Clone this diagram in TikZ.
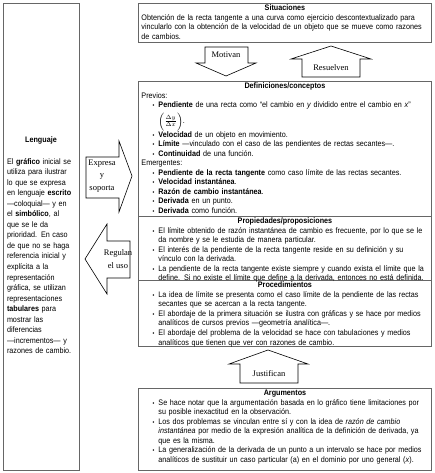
\documentclass[tikz,border=0pt]{standalone}
\usepackage{fontspec}
\setmainfont[FakeStretch=0.9]{Liberation Sans}
\newfontfamily\arrowfont{Liberation Serif}
\usepackage{enumitem}
\usetikzlibrary{positioning}

\setlist[itemize]{label={\fontsize{6}{6}\selectfont\textbullet}, leftmargin=17pt, labelsep=4pt, itemsep=0pt, topsep=0pt, parsep=0pt, partopsep=0pt}

\tikzset{
	frame/.style={draw=black!60, line width=0.9pt, inner sep=0pt, anchor=north west},
	boxtext/.style={inner sep=0pt, text width=287pt, anchor=north, font=\fontsize{8}{9.5}\selectfont},
	blockarrow/.style={draw=black, line width=0.6pt, fill=white, line join=miter},
	arrowlabel/.style={inner sep=0pt, align=center, font=\arrowfont\fontsize{8.5}{12.5}\selectfont}
}

\begin{document}
\begin{tikzpicture}[x=1pt, y=-1pt]

	\useasboundingbox (0,0) rectangle (434,473);

	% frames
	\node[frame, minimum width=76pt, minimum height=467pt] (lenguaje) at (3,3) {};
	\node[frame, minimum width=293pt, minimum height=39pt] (situaciones) at (138,3) {};
	\node[frame, minimum width=293pt, minimum height=135pt] (definiciones) at (138,81) {};
	\node[frame, minimum width=293pt, minimum height=64pt] (propiedades) at (138,216) {};
	\node[frame, minimum width=293pt, minimum height=66pt] (procedimientos) at (138,280) {};
	\node[frame, minimum width=293pt, minimum height=82pt] (argumentos) at (138,388) {};

	% block arrows
	\draw[blockarrow] (205,47)--(248,47)--(248,63)--(256,63)--(226,76)--(196,63)--(205,63)--cycle;
	\node[arrowlabel] (motivan) at (226,55) {Motivan};
	\draw[blockarrow] (302,77)--(360,77)--(360,59)--(371,59)--(331,46)--(291,59)--(302,59)--cycle;
	\node[arrowlabel] (resuelven) at (331,68) {Resuelven};
	\draw[blockarrow] (240,383)--(298,383)--(298,364)--(308,364)--(268,350)--(229,364)--(240,364)--cycle;
	\node[arrowlabel] (justifican) at (269,374) {Justifican};

	\draw[blockarrow] (86,157)--(119,157)--(119,141)--(132,176)--(119,212)--(119,198)--(86,198)--cycle;
	\node[arrowlabel] (expresa) at (102,176) {Expresa\\y\\soporta};
	\draw[blockarrow] (130,241)--(107,241)--(107,224)--(85,259)--(107,294)--(107,278)--(130,278)--cycle;
	\node[arrowlabel] (regulan) at (118,259) {Regulan\\el uso};

	% texts
	\node[inner sep=0pt, font=\fontsize{8}{9.5}\selectfont\bfseries] (lenguajetitle) at (41,140) {Lenguaje};
	\node[inner sep=0pt, below=14pt of lenguajetitle, text width=68pt, align=left, font=\fontsize{8}{10.55}\selectfont] (lenguajetext) {%
		El \textbf{gráfico} inicial se\\
		utiliza para ilustrar\\
		lo que se expresa\\
		en lenguaje \textbf{escrito}\\
		—coloquial— y en\\
		el \textbf{simbólico}, al\\
		que se le da\\
		prioridad. En caso\\
		de que no se haga\\
		referencia inicial y\\
		explícita a la\\
		representación\\
		gráfica, se utilizan\\
		representaciones\\
		\textbf{tabulares} para\\
		mostrar las\\
		diferencias\\
		—incrementos— y\\
		razones de cambio.};

	\node[boxtext] (situacionestext) at ([yshift=-2pt]situaciones.north) {%
		{\centering\textbf{Situaciones}\par}
		Obtención de la recta tangente a una curva como ejercicio descontextualizado para\linebreak
		vincularlo con la obtención de la velocidad de un objeto que se mueve como razones\linebreak
		de cambios.};

	\node[boxtext] (definicionestext) at ([yshift=-2pt]definiciones.north) {%
		{\centering\textbf{Definiciones/conceptos}\par}
		\raggedright
		Previos:
		\begin{itemize}
			\item \textbf{Pendiente} de una recta como “el cambio en \textit{y} dividido entre el cambio en \textit{x}”\\[2pt]
			$\left(\rule[-5pt]{0pt}{13pt}\frac{\Delta y}{\Delta x}\right)$.
			\item \textbf{Velocidad} de un objeto en movimiento.
			\item \textbf{Límite} —vinculado con el caso de las pendientes de rectas secantes—.
			\item \textbf{Continuidad} de una función.
		\end{itemize}
		Emergentes:
		\begin{itemize}
			\item \textbf{Pendiente de la recta tangente} como caso límite de las rectas secantes.
			\item \textbf{Velocidad instantánea}.
			\item \textbf{Razón de cambio instantánea}.
			\item \textbf{Derivada} en un punto.
			\item \textbf{Derivada} como función.
		\end{itemize}};

	\node[boxtext] (propiedadestext) at ([yshift=-2pt]propiedades.north) {%
		{\centering\textbf{Propiedades/proposiciones}\par}
		\raggedright
		\begin{itemize}
			\item El límite obtenido de razón instantánea de cambio es frecuente, por lo que se le\newline
			da nombre y se le estudia de manera particular.
			\item El interés de la pendiente de la recta tangente reside en su definición y su\newline
			vínculo con la derivada.
			\item La pendiente de la recta tangente existe siempre y cuando exista el límite que la\newline
			define. Si no existe el límite que define a la derivada, entonces no está definida.
		\end{itemize}};

	\node[boxtext] (procedimientostext) at ([yshift=-2pt]procedimientos.north) {%
		{\centering\textbf{Procedimientos}\par}
		\raggedright
		\begin{itemize}
			\item La idea de límite se presenta como el caso límite de la pendiente de las rectas\newline
			secantes que se acercan a la recta tangente.
			\item El abordaje de la primera situación se ilustra con gráficas y se hace por medios\newline
			analíticos de cursos previos —geometría analítica—.
			\item El abordaje del problema de la velocidad se hace con tabulaciones y medios\newline
			analíticos que tienen que ver con razones de cambio.
		\end{itemize}};

	\node[boxtext] (argumentostext) at ([yshift=-2pt]argumentos.north) {%
		{\centering\textbf{Argumentos}\par}
		\raggedright
		\begin{itemize}
			\item Se hace notar que la argumentación basada en lo gráfico tiene limitaciones por\newline
			su posible inexactitud en la observación.
			\item Los dos problemas se vinculan entre sí y con la idea de \textit{razón de cambio}\newline
			\textit{instantánea} por medio de la expresión analítica de la definición de derivada, ya\newline
			que es la misma.
			\item La generalización de la derivada de un punto a un intervalo se hace por medios\newline
			analíticos de sustituir un caso particular (a) en el dominio por uno general (\textit{x}).
		\end{itemize}};

\end{tikzpicture}
\end{document}
